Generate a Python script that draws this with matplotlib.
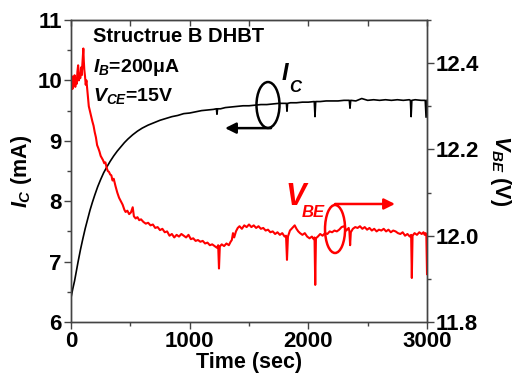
import matplotlib
matplotlib.use('Agg')
import matplotlib.pyplot as plt
from matplotlib.patches import Ellipse

plt.rcParams['font.family'] = 'Liberation Sans'
plt.rcParams['font.weight'] = 'bold'
plt.rcParams['mathtext.fontset'] = 'custom'
plt.rcParams['mathtext.it'] = 'Liberation Sans:italic:bold'
plt.rcParams['mathtext.rm'] = 'Liberation Sans:bold'
plt.rcParams['mathtext.bf'] = 'Liberation Sans:bold'

# collector current vs stress time (mA)
t_ic = [0, 15, 30, 45, 60, 80, 100, 120, 140, 160, 180, 200, 225, 250, 275,
        300, 330, 360, 390, 420, 450, 480, 520, 560, 600, 650, 700, 750, 800,
        850, 900, 950, 1000, 1050, 1100, 1150, 1200, 1225, 1230, 1235, 1260,
        1300, 1350, 1400, 1450, 1500, 1550, 1600, 1650, 1700, 1750, 1800, 1815,
        1820, 1825, 1850, 1900, 1950, 2000, 2050, 2056, 2062, 2100, 2150, 2200,
        2250, 2300, 2345, 2351, 2357, 2400, 2450, 2500, 2550, 2600, 2650, 2700,
        2750, 2800, 2850, 2860, 2866, 2872, 2900, 2950, 2985, 2992, 3000]
ic = [6.40, 6.55, 6.68, 6.84, 7.00, 7.20, 7.38, 7.55, 7.70, 7.85, 7.98, 8.10, 8.24, 8.36, 8.47,
      8.56, 8.66, 8.75, 8.83, 8.90, 8.97, 9.03, 9.10, 9.16, 9.21, 9.26, 9.30, 9.34, 9.37,
      9.40, 9.42, 9.45, 9.46, 9.48, 9.50, 9.51, 9.52, 9.53, 9.44, 9.53, 9.53,
      9.55, 9.56, 9.57, 9.58, 9.58, 9.59, 9.60, 9.60, 9.61, 9.62, 9.62, 9.62,
      9.49, 9.62, 9.63, 9.63, 9.64, 9.64, 9.65, 9.40, 9.65, 9.65, 9.66, 9.66,
      9.66, 9.67, 9.67, 9.54, 9.67, 9.66, 9.70, 9.67, 9.68, 9.67, 9.68, 9.67,
      9.68, 9.67, 9.68, 9.67, 9.40, 9.67, 9.68, 9.67, 9.67, 9.39, 9.67]

# base-emitter voltage vs stress time (V)
t_vbe = [0, 6, 12, 18, 24, 30, 36, 42, 48, 54, 60, 66, 72, 78, 84, 90, 96, 100,
         104, 108, 112, 118, 124, 130, 140, 150, 160, 170, 180, 190, 200, 210, 220,
         230, 240, 250, 260, 270, 280, 290, 300, 310, 320, 330, 340, 350, 360, 375,
         390, 405, 420, 435, 450, 460, 475, 490, 505, 520, 530, 545, 560, 575, 590,
         610, 630, 650, 670, 690, 710, 730, 750, 770, 790, 810, 830, 850, 870, 890,
         910, 930, 950, 970, 990, 1010, 1030, 1050, 1070, 1090, 1110, 1130, 1150,
         1170, 1190, 1210, 1230, 1240, 1247, 1254, 1270, 1290, 1310, 1330, 1345,
         1355, 1365, 1375, 1390, 1405, 1420, 1440, 1460, 1480, 1500, 1520, 1540,
         1560, 1580, 1600, 1620, 1640, 1660, 1680, 1700, 1720, 1740, 1760, 1780,
         1800, 1812, 1820, 1828, 1845, 1865, 1885, 1900, 1915, 1930, 1950, 1970,
         1990, 2010, 2030, 2045, 2052, 2058, 2064, 2080, 2100, 2120, 2140, 2160,
         2180, 2200, 2220, 2240, 2260, 2280, 2300, 2320, 2340, 2346, 2352, 2358,
         2375, 2395, 2415, 2435, 2455, 2475, 2495, 2515, 2535, 2555, 2575, 2595,
         2615, 2635, 2655, 2675, 2695, 2715, 2735, 2755, 2775, 2795, 2815, 2835,
         2855, 2866, 2872, 2878, 2895, 2915, 2935, 2955, 2970, 2980, 2988, 2994, 3000]
vbe = [12.355, 12.370, 12.340, 12.362, 12.350, 12.372, 12.345, 12.365, 12.352, 12.380, 12.395, 12.360, 12.375, 12.365, 12.390, 12.372, 12.400, 12.420,
       12.434, 12.405, 12.385, 12.370, 12.350, 12.360, 12.330, 12.300, 12.288, 12.275, 12.265, 12.255, 12.240, 12.228, 12.210,
       12.203, 12.195, 12.185, 12.180, 12.175, 12.168, 12.170, 12.158, 12.150, 12.148, 12.142, 12.140, 12.128, 12.132, 12.115,
       12.100, 12.088, 12.080, 12.072, 12.060, 12.055, 12.058, 12.050, 12.054, 12.066, 12.045, 12.040, 12.043, 12.036, 12.038,
       12.032, 12.028, 12.030, 12.024, 12.026, 12.018, 12.020, 12.013, 12.016, 12.008, 12.010, 12.000, 12.004, 11.996, 12.002,
       11.998, 12.004, 12.000, 11.996, 12.002, 11.992, 11.994, 11.988, 11.990, 11.986, 11.988, 11.982, 11.984,
       11.978, 11.980, 11.976, 11.972, 11.978, 11.924, 11.975, 11.980, 11.976, 11.982, 11.978, 11.986,
       11.990, 12.006, 11.996, 12.010, 12.018, 12.022, 12.016, 12.024, 12.020, 12.026, 12.020, 12.024,
       12.018, 12.022, 12.016, 12.018, 12.012, 12.014, 12.008, 12.010, 12.004, 12.008, 12.002, 12.006,
       11.998, 12.000, 11.944, 11.998, 12.012, 12.018, 12.024, 12.016, 12.010, 12.006, 12.002, 12.006,
       11.998, 11.994, 11.998, 11.992, 11.996, 11.886, 11.994, 11.998, 12.004, 12.000, 12.006, 12.004,
       12.010, 12.008, 12.012, 12.010, 12.014, 12.020, 12.022, 12.012, 12.018, 12.010, 11.978, 12.008,
       12.016, 12.020, 12.018, 12.022, 12.016, 12.020, 12.014, 12.018, 12.012, 12.016, 12.010, 12.014,
       12.012, 12.016, 12.010, 12.014, 12.008, 12.012, 12.010, 12.006, 12.004, 12.008, 12.000, 12.004,
       11.998, 12.002, 11.902, 12.000, 12.006, 12.002, 12.008, 12.004, 12.008, 12.002, 12.006, 12.004, 11.911]

axis_color = '#444444'

fig = plt.figure(figsize=(5.13, 3.79), dpi=100)
ax1 = fig.add_axes([0.1384, 0.1504, 0.694, 0.7968])
ax2 = ax1.twinx()

ax1.plot(t_ic, ic, color='black', lw=1.2)
ax2.plot(t_vbe, vbe, color='red', lw=1.5)

ax1.set_xlim(0, 3000)
ax1.set_ylim(6, 11)
ax2.set_ylim(11.8, 12.5)

ax1.set_xticks([0, 1000, 2000, 3000])
ax1.set_xticks([500, 1500, 2500], minor=True)
ax1.set_yticks([6, 7, 8, 9, 10, 11])
ax1.set_yticks([6.5, 7.5, 8.5, 9.5, 10.5], minor=True)
ax2.set_yticks([11.8, 12.0, 12.2, 12.4])
ax2.set_yticks([11.9, 12.1, 12.3, 12.5], minor=True)
ax2.set_yticklabels(['11.8', '12.0', '12.2', '12.4'])

for ax in (ax1, ax2):
    for sp in ax.spines.values():
        sp.set_color(axis_color)
        sp.set_linewidth(1.0)
    ax.tick_params(which='both', direction='out', colors=axis_color,
                   labelcolor='black', labelsize=16, pad=1.5, width=1.0)
    ax.tick_params(which='major', length=5)
    ax.tick_params(which='minor', length=3)

# inward ticks along the top edge
top = ax1.secondary_xaxis('top')
top.set_xticks([0, 500, 1000, 1500, 2000, 2500, 3000])
top.tick_params(direction='in', length=4, colors=axis_color, labeltop=False, width=1.0)
top.spines['top'].set_color(axis_color)

ax1.set_xlabel('Time (sec)', fontsize=15.5, fontweight='bold', labelpad=0)
ax1.set_ylabel(r'$I_C$ (mA)', fontsize=15.5, fontweight='bold', labelpad=2)
ax2.set_ylabel(r'$V_{BE}$ (V)', fontsize=15.5, fontweight='bold', rotation=270, labelpad=24)

# condition notes
ax1.text(185, 10.72, 'Structrue B DHBT', fontsize=14.5, fontweight='bold', va='center')
ax1.text(185, 10.22, r'$I_B$=200μA', fontsize=14, fontweight='bold', va='center')
ax1.text(185, 9.75, r'$V_{CE}$=15V', fontsize=14, fontweight='bold', va='center')

# I_C marker: label, ellipse, arrow pointing to the left axis
ax1.text(1778, 10.11, 'I', fontsize=17, style='italic', fontweight='bold', va='center')
ax1.text(1840, 9.88, 'C', fontsize=12, style='italic', fontweight='bold', va='center')
ax1.add_patch(Ellipse((1660, 9.593), 194, 0.76, fill=False, ec='black', lw=1.8))
ax1.annotate('', xy=(1298, 9.21), xytext=(1685, 9.21),
             arrowprops=dict(arrowstyle='-|>', color='black', lw=1.8,
                             mutation_scale=16, shrinkA=0, shrinkB=0))

# V_BE marker: label, ellipse, arrow pointing to the right axis
ax1.text(1810, 8.07, 'V', fontsize=22, style='italic', fontweight='bold',
         color='red', va='center')
ax1.text(1940, 7.81, 'BE', fontsize=12, style='italic', fontweight='bold',
         color='red', va='center')
ax1.add_patch(Ellipse((2225, 7.54), 169, 0.795, fill=False, ec='red', lw=1.8))
ax1.annotate('', xy=(2730, 7.954), xytext=(2225, 7.954),
             arrowprops=dict(arrowstyle='-|>', color='red', lw=1.8,
                             mutation_scale=16, shrinkA=0, shrinkB=0))

fig.savefig('out.png', dpi=100)
